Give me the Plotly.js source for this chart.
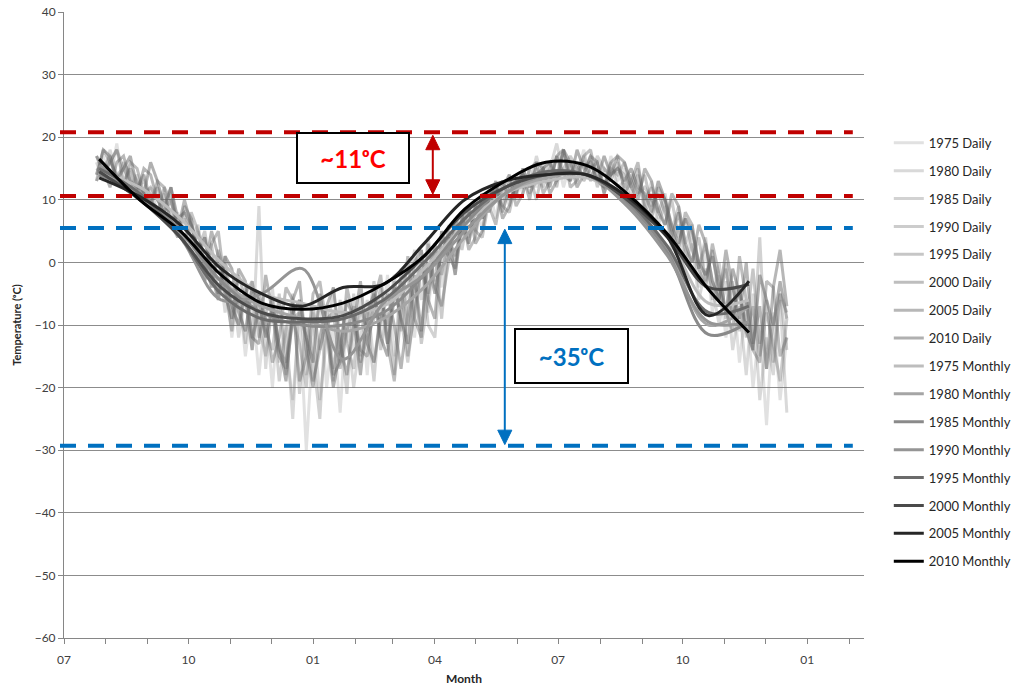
<!DOCTYPE html>
<html>
<head>
<meta charset="utf-8">
<script src="https://cdn.plot.ly/plotly-3.0.1.min.js"></script>
<style>
  html, body { margin: 0; padding: 0; background: #ffffff; }
  #chart { width: 1028px; height: 694px; }
</style>
</head>
<body>
<div id="chart"></div>
<script>
// ---------------- DATA ----------------
// Daily series: one value every 5 days starting 2012-07-25 (103 values each)
const dailyStart = '2012-07-25';
const dailyStepDays = 5;

const daily1975 = [14,17,13,19,12,15,11,14,9,12,7,10,4,
  6,1,5,-3,2,-6,-2,-12,-4,-15,-6,-18,-8,
  -20,-6,-14,-22,-8,-30,-12,-6,-20,-10,-24,-8,-14,
  -5,-18,-4,-12,-2,-15,-6,-1,-12,1,-8,3,-4,
  6,-2,8,3,10,5,12,7,13,9,14,11,15,
  12,16,13,17,12,16,14,18,13,16,12,17,13,
  15,11,14,9,13,7,10,4,8,1,5,-4,2,
  -8,-2,-12,-4,-16,-6,-20,-10,-26,-8,-22,-12];
const daily1980 = [16,13,18,14,15,12,14,10,12,8,11,6,8,
  3,7,0,4,-4,1,-8,-3,-12,-5,-14,9,-17,
  -4,-16,-10,-25,-6,-18,-8,-22,-12,-4,-16,-10,-20,
  -12,-6,-16,-8,-10,-2,-11,-4,2,-6,4,-3,5,
  1,7,4,9,6,11,8,12,10,14,10,15,12,
  17,13,15,19,14,16,13,17,14,15,11,16,12,
  13,10,14,8,11,6,9,2,6,0,3,-6,-1,
  -4,-10,-3,-14,-7,-18,-5,-22,-12,-18,-6,-24];
const daily1985 = [13,15,17,13,16,14,12,13,10,12,9,8,6,
  8,3,6,-1,3,-5,0,-9,-5,-13,-3,-10,-15,
  -7,-19,-11,-5,-21,-9,-15,-25,-7,-17,-11,-21,-5,
  -15,-9,-19,-6,-13,-3,-9,-16,-7,2,-10,-12,1,
  5,0,7,4,9,7,10,12,9,13,11,14,13,
  15,12,16,14,18,13,15,16,13,17,15,13,16,
  12,14,11,12,10,8,11,5,9,3,6,-1,4,
  -6,0,-9,-3,-11,-6,-14,4,-17,-10,-5,-14];
const daily1990 = [15,14,16,18,13,15,13,11,12,10,8,10,5,
  7,4,2,5,-2,-5,1,-7,-10,-4,-12,-8,-11,
  -14,-5,-18,-9,-13,-20,-7,-14,-9,-19,-6,-13,-17,
  -7,-11,-3,-14,-8,-18,-1,-10,-3,-13,-6,2,-9,
  3,6,2,8,5,10,8,11,13,10,12,14,11,
  13,15,16,13,15,17,15,14,17,12,15,14,15,
  14,12,15,10,12,9,6,10,4,7,2,-1,3,
  -3,-6,0,-9,-4,-12,-7,-15,-8,-13,-19,-9];
const daily1995 = [17,14,16,18,15,13,12,14,10,8,12,10,6,
  3,8,5,0,-4,2,-2,-7,-10,-5,-3,-12,-8,
  -6,-14,-16,-9,-8,-12,-19,-14,-9,-8,-17,-11,-7,
  -16,-12,-9,-4,-13,-6,-3,-15,-8,-1,-5,3,-2,
  4,1,6,8,5,4,10,11,9,8,13,12,14,
  10,15,16,12,18,14,16,13,15,16,12,15,14,
  16,13,11,14,9,11,8,4,8,2,0,4,-3,
  2,-6,-1,-9,-4,-10,-1,-13,-6,-16,-5,-8];
const daily2000 = [13,18,16,14,12,16,15,11,9,13,12,6,4,
  9,7,1,-3,3,5,-4,-11,-2,-6,-14,-5,-9,
  -16,-12,-4,-6,-19,-15,-5,-3,-10,-18,-16,-4,-9,
  -14,-15,-6,-2,-13,-19,-8,1,-9,-12,3,-4,-7,
  0,6,8,2,4,11,9,6,12,14,9,11,15,
  16,11,13,17,18,12,13,17,18,13,12,16,17,
  11,13,16,9,7,12,10,5,2,8,6,-1,-4,
  3,-2,-8,-11,1,-6,-14,-16,-3,-4,-15,-12];
const daily2005 = [17,15,12,16,17,13,11,15,14,10,8,12,5,
  10,6,2,-1,5,1,-5,-9,-1,-3,-12,-13,-2,
  -8,-15,-17,-6,-3,-14,-20,-12,-7,-4,-13,-18,-10,
  -3,-13,-16,-9,-5,-10,-17,-8,0,2,-6,-9,5,
  1,-1,7,9,3,5,11,12,7,9,13,14,10,
  16,15,11,13,18,16,12,14,17,16,11,14,17,
  16,12,10,15,13,8,6,11,9,3,0,6,3,
  -3,-6,2,-4,-9,0,-13,-7,-17,-4,2,-7];
const daily2010 = [14,18,17,13,15,17,12,11,16,13,9,12,7,
  8,6,2,4,-2,-6,1,-1,-8,-11,-4,-6,-12,
  -7,-13,-19,-8,-6,-12,-16,-5,-11,-20,-14,-6,-9,
  -18,-8,-5,-12,-15,-4,-9,-13,-2,-11,0,-5,2,
  4,-2,6,3,9,7,10,13,8,12,11,15,12,
  14,15,12,17,14,13,18,15,16,13,17,14,15,
  13,15,12,11,8,13,10,6,3,7,5,0,-2,
  1,-4,-8,-1,-5,-11,-14,-2,-6,-10,-3,-9];

// Monthly series (smoothed lines)
const monthlyDates = ['2012-07-27','2012-08-26','2012-09-25','2012-10-25','2012-11-24','2012-12-24',
  '2013-01-23','2013-02-22','2013-03-24','2013-04-23','2013-05-23','2013-06-22',
  '2013-07-22','2013-08-21','2013-09-20','2013-10-20','2013-11-19'];
const monthly1975 = [14.5,12,7,0,-5,-6.5,-8,-7,-1,6,11,13,13.5,10,4,-6.5,-6];
const monthly1980 = [15,11,5,-3,-7,-9,-11,-9,-4,4,11,13.5,14,9.5,2,-10,-7];
const monthly1985 = [14,11,5,-3,-8,-10,-10,-8,-2,6,12,14,14,9.5,1.5,-11.5,-9.5];
const monthly1990 = [15.5,10.5,4,-6,-5,-1,-15.5,-6.5,-2,5,11,14,14,9,1,-9.5,-9.5];
const monthly1995 = [15,11,4,-5,-9,-9.5,-9,-6,0,7,12,14.5,14,10,2.5,-8,-7];
const monthly2000 = [14.5,10,4,-4,-8,-9,-8.5,-5,1,8,12,14,14,10,4,-4,-3.5];
const monthly2005 = [13.5,10.5,6,-1,-5,-7,-4,-3.5,3,10,13,14,14,10.5,4,-8.5,-3];
const monthly2010 = [16.5,10,5,-2,-6.5,-7.5,-6.5,-3.5,1,8.5,13,16,15.5,11,4.5,-4.3,-11.2];

const years = ['1975','1980','1985','1990','1995','2000','2005','2010'];
const dailySeries = [daily1975,daily1980,daily1985,daily1990,daily1995,daily2000,daily2005,daily2010];
const monthlySeries = [monthly1975,monthly1980,monthly1985,monthly1990,monthly1995,monthly2000,monthly2005,monthly2010];

// Reference lines, arrows & labels (values in °C)
const redLines = [20.8, 10.6];
const blueLines = [5.5, -29.3];
const redArrow = [20.3, 10.9];
const blueArrow = [5.3, -29.1];
const redLabel = '~11\u1D52C';
const blueLabel = '~35\u1D52C';
const yTitle = 'Temperature (\u1D52C)';

// ---------------- STYLE ----------------
const dailyAlphas = [0.2, 0.25, 0.3, 0.34, 0.38, 0.43, 0.48, 0.53];
const monthlyColors = ['#bdbdbd','#a5a5a5','#8a8a8a','#959595','#6b6b6b','#4a4a4a','#262626','#000000'];
const FONT = 'Lato, "DejaVu Sans", sans-serif';

function makeDates(start, step, n) {
  const out = [];
  const d0 = new Date(start + 'T00:00:00Z');
  for (let i = 0; i < n; i++) {
    const d = new Date(d0.getTime() + i * step * 86400000);
    out.push(d.toISOString().slice(0, 10));
  }
  return out;
}

const traces = [];
years.forEach((y, k) => {
  const vals = dailySeries[k];
  traces.push({
    type: 'scatter', mode: 'lines', name: y + ' Daily', legendgroup: 'd' + y,
    x: makeDates(dailyStart, dailyStepDays, vals.length), y: vals,
    line: { color: 'rgba(105,105,105,' + dailyAlphas[k] + ')', width: 3 }, hoverinfo: 'skip'
  });
});
years.forEach((y, k) => {
  traces.push({
    type: 'scatter', mode: 'lines', name: y + ' Monthly', legendgroup: 'm' + y,
    x: monthlyDates, y: monthlySeries[k],
    line: { color: monthlyColors[k], width: 3, shape: 'spline', smoothing: 1 }, hoverinfo: 'skip'
  });
});

const shapes = [];
redLines.forEach(v => shapes.push({ type: 'line', xref: 'paper', yref: 'y', x0: -0.005, x1: 0.986, y0: v, y1: v,
  line: { color: '#c00000', width: 4, dash: '16px,12px' }, layer: 'above' }));
blueLines.forEach(v => shapes.push({ type: 'line', xref: 'paper', yref: 'y', x0: -0.005, x1: 0.986, y0: v, y1: v,
  line: { color: '#0070c0', width: 4, dash: '16px,12px' }, layer: 'above' }));

function doubleArrow(xp, tipTop, tipBot, color) {
  const hh = 2.3, hw = 0.0088;
  shapes.push({ type: 'line', xref: 'paper', yref: 'y', x0: xp, x1: xp, y0: tipTop - hh + 0.3, y1: tipBot + hh - 0.3,
    line: { color: color, width: 2 }, layer: 'above' });
  shapes.push({ type: 'path', xref: 'paper', yref: 'y', layer: 'above', fillcolor: color, line: { color: color, width: 1 },
    path: `M ${xp - hw},${tipTop - hh} L ${xp},${tipTop} L ${xp + hw},${tipTop - hh} Z` });
  shapes.push({ type: 'path', xref: 'paper', yref: 'y', layer: 'above', fillcolor: color, line: { color: color, width: 1 },
    path: `M ${xp - hw},${tipBot + hh} L ${xp},${tipBot} L ${xp + hw},${tipBot + hh} Z` });
}
doubleArrow(0.461, redArrow[0], redArrow[1], '#c00000');
doubleArrow(0.551, blueArrow[0], blueArrow[1], '#0070c0');

const annotations = [
  { xref: 'paper', yref: 'y', x: 0.361, y: 16.6, text: '<b>' + redLabel + '</b>', showarrow: false,
    font: { family: FONT, size: 24, color: '#ff0000' }, bgcolor: '#ffffff', bordercolor: '#000000', borderwidth: 2,
    width: 108, height: 46, align: 'center', valign: 'middle' },
  { xref: 'paper', yref: 'y', x: 0.634, y: -14.9, text: '<b>' + blueLabel + '</b>', showarrow: false,
    font: { family: FONT, size: 24, color: '#0070c0' }, bgcolor: '#ffffff', bordercolor: '#000000', borderwidth: 2,
    width: 109, height: 50, align: 'center', valign: 'middle' }
];

const layout = {
  width: 1028, height: 694,
  margin: { l: 64, r: 155, t: 12, b: 56 },
  paper_bgcolor: '#ffffff', plot_bgcolor: '#ffffff',
  font: { family: FONT, size: 12, color: '#404040' },
  showlegend: true,
  legend: { x: 1.031, y: 0.815, xanchor: 'left', yanchor: 'top', tracegroupgap: 8, itemwidth: 30,
    font: { family: FONT, size: 13, color: '#262626' }, bgcolor: 'rgba(0,0,0,0)' },
  xaxis: {
    type: 'date', range: ['2012-07-01', '2014-02-12'], tickformat: '%m', dtick: 'M3', tick0: '2012-07-01',
    ticks: 'outside', ticklen: 5, tickcolor: '#868686', showline: true, linecolor: '#868686', linewidth: 1,
    showgrid: false, zeroline: false, ticklabelstandoff: 6,
    minor: { dtick: 'M1', ticks: 'outside', ticklen: 5, tickcolor: '#868686', showgrid: false },
    tickfont: { family: FONT, size: 12, color: '#404040' },
    title: { text: '<b>Month</b>', font: { family: FONT, size: 12, color: '#262626' }, standoff: 8 }
  },
  yaxis: {
    range: [-60, 40], dtick: 10, showgrid: true, gridcolor: '#8c8c8c', gridwidth: 1, zeroline: false,
    showline: true, linecolor: '#868686', linewidth: 1, ticks: 'outside', ticklen: 5, tickcolor: '#868686',
    tickfont: { family: FONT, size: 12, color: '#404040' },
    title: { text: '<b>' + yTitle + '</b>', font: { family: FONT, size: 11, color: '#262626' }, standoff: 10 }
  },
  shapes: shapes,
  annotations: annotations
};

Plotly.newPlot('chart', traces, layout, { staticPlot: true, displayModeBar: false });
</script>
</body>
</html>
